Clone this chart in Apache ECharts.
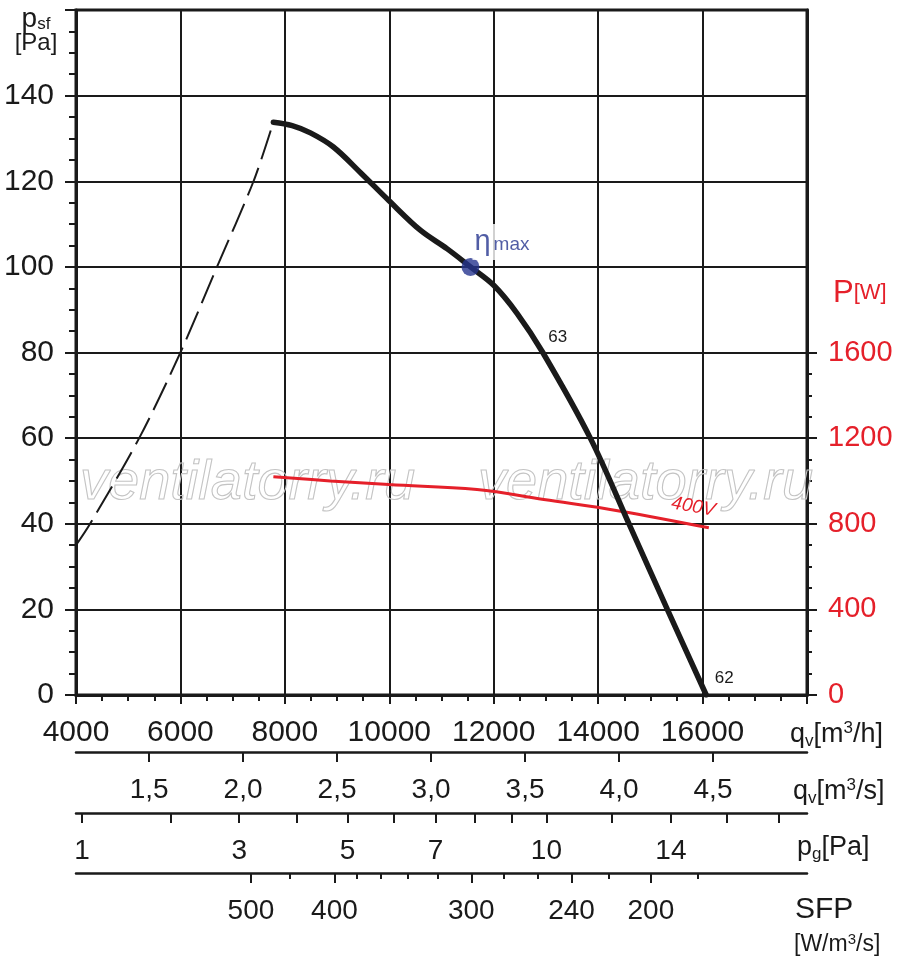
<!DOCTYPE html>
<html>
<head>
<meta charset="utf-8">
<title>Fan curve</title>
<script src="https://cdn.jsdelivr.net/npm/echarts@6/dist/echarts.min.js"></script>
<style>
html, body { margin: 0; padding: 0; background: #fff; }
#chart { width: 900px; height: 967px; }
</style>
</head>
<body>
<div id="chart"></div>
<script>
var FONT = '"Liberation Sans", Arial, Helvetica, sans-serif';
var INK = '#1a1a1a';
var RED = '#e5202a';
var BLUE = '#26358f';

// fan curve (stable part) : q [m3/h] -> psf [Pa]
var curveFlow  = [7780, 8140, 8490, 8930, 9450, 9990, 10600, 11110, 11555, 12000, 12450, 12940, 13850, 14590, 15325, 16070];
var curvePress = [133.8, 133.0, 131.3, 128.0, 122.0, 115.5, 108.5, 104.2, 100.0, 95.7, 89.1, 80.0, 60.0, 40.0, 20.0, 0];

// stall region (dashed)
var stallFlow  = [4000, 4270, 5210, 6000, 6700, 7400, 7780];
var stallPress = [35.0, 40.0, 60.0, 80.0, 100.0, 120.0, 133.8];

// power input, 400V : q [m3/h] -> P [W]
var powerFlow = [7780, 8870, 9990, 11680, 12960, 14400, 16120];
var powerW    = [1020, 1000, 983, 960, 913, 860, 781];

// best efficiency point
var etaMax = [11555, 100];

// right axis labels
var powerTicks = [0, 400, 800, 1200, 1600];

// secondary scales
var flowSecTicks = [1.5, 2.0, 2.5, 3.0, 3.5, 4.0, 4.5];          // m3/s
var pgTicks  = [1, 2, 3, 4, 5, 6, 7, 8, 9, 10, 12, 14, 16, 18];   // Pa
var pgLabels = [1, 3, 5, 7, 10, 14];
var PG_FLOW_1PA = 4114;                                          // m3/h at 1 Pa dynamic pressure
var sfpMajor     = [500, 400, 300, 240, 200];                    // W/(m3/s)
var sfpMajorFlow = [7350, 8950, 11570, 13490, 15010];            // where they sit, m3/h
var sfpMinorFlow = [8100, 9370, 9830, 10350, 10920, 12190, 12840, 14200, 15910];

function pairs(xs, ys) {
  return xs.map(function (x, i) { return [x, ys[i]]; });
}
function pgToFlow(pg) { return PG_FLOW_1PA * Math.sqrt(pg); }

var powerMinor = [];
for (var w = 0; w <= 1600; w += 100) { if (w % 400) powerMinor.push(w); }

var chart = echarts.init(document.getElementById('chart'));

function secAxis(offset, extra) {
  var a = {
    type: 'value', min: 4000, max: 18000, position: 'bottom', offset: offset,
    axisLine: { show: true, onZero: false, lineStyle: { color: INK, width: 2.5 } },
    axisTick: { show: true, length: 10, lineStyle: { color: INK, width: 2 } },
    axisLabel: { fontSize: 28, color: INK, margin: 24, fontFamily: FONT },
    splitLine: { show: false }
  };
  for (var k in extra) {
    if (typeof extra[k] === 'object' && a[k]) {
      for (var j in extra[k]) a[k][j] = extra[k][j];
    } else a[k] = extra[k];
  }
  return a;
}

function richName(x, y, text, rich) {
  return {
    type: 'text', x: x, y: y, z: 10,
    style: { text: text, align: 'left', verticalAlign: 'middle', fill: INK, fontFamily: FONT, rich: rich }
  };
}

var unitRich = {
  b: { fontSize: 27, fontFamily: FONT, fill: INK, lineHeight: 30 },
  sub: { fontSize: 17, fontFamily: FONT, fill: INK, lineHeight: 15, verticalAlign: 'bottom' },
  sup: { fontSize: 17, fontFamily: FONT, fill: INK, lineHeight: 15, verticalAlign: 'top' }
};

var option = {
  animation: false,
  backgroundColor: '#fff',
  textStyle: { fontFamily: FONT },
  grid: { left: 76, right: 93, top: 10, bottom: 272, show: true, borderColor: INK, borderWidth: 3, containLabel: false },
  xAxis: [
    {
      type: 'value', min: 4000, max: 18000, interval: 2000, position: 'bottom',
      axisLine: { onZero: false, lineStyle: { color: INK, width: 3 } },
      axisTick: { length: 9, lineStyle: { color: INK, width: 2 } },
      minorTick: { show: true, splitNumber: 4, length: 6, lineStyle: { color: INK, width: 2 } },
      axisLabel: { fontSize: 30, color: INK, margin: 23, fontFamily: FONT,
        formatter: function (v) { return v === 18000 ? '' : String(v); } },
      splitLine: { show: true, lineStyle: { color: INK, width: 2 } }
    },
    // q [m3/s]
    {
      type: 'value', min: 4000 / 3600, max: 18000 / 3600, position: 'bottom', offset: 57,
      axisLine: { show: true, onZero: false, lineStyle: { color: INK, width: 2.5 } },
      axisTick: { show: true, length: 10, customValues: flowSecTicks, lineStyle: { color: INK, width: 2 } },
      axisLabel: { fontSize: 28, color: INK, margin: 24, fontFamily: FONT, customValues: flowSecTicks,
        formatter: function (v) { return v.toFixed(1).replace('.', ','); } },
      splitLine: { show: false }
    },
    // pg [Pa]
    secAxis(118, {
      axisTick: { customValues: pgTicks.map(pgToFlow) },
      axisLabel: { margin: 24, customValues: pgLabels.map(pgToFlow),
        formatter: function (v) { return String(Math.round(Math.pow(v / PG_FLOW_1PA, 2))); } }
    }),
    // SFP major
    secAxis(178, {
      axisTick: { customValues: sfpMajorFlow },
      axisLabel: { margin: 24, customValues: sfpMajorFlow,
        formatter: function (v) { return String(sfpMajor[sfpMajorFlow.indexOf(v)]); } }
    }),
    // SFP minor ticks
    secAxis(178, {
      axisLine: { show: false },
      axisTick: { length: 6, customValues: sfpMinorFlow },
      axisLabel: { show: false }
    })
  ],
  yAxis: [
    {
      type: 'value', min: 0, max: 160, interval: 20, position: 'left',
      axisLine: { show: true, onZero: false, lineStyle: { color: INK, width: 3 } },
      axisTick: { show: true, length: 11, lineStyle: { color: INK, width: 2 } },
      minorTick: { show: true, splitNumber: 4, length: 7, lineStyle: { color: INK, width: 2 } },
      axisLabel: { fontSize: 30, color: INK, margin: 22, fontFamily: FONT,
        formatter: function (v) { return v === 160 ? '' : String(v); } },
      splitLine: { show: true, lineStyle: { color: INK, width: 2 } }
    },
    {
      type: 'value', min: 0, max: 3200, position: 'right',
      axisLine: { show: true, onZero: false, lineStyle: { color: INK, width: 3 } },
      axisTick: { show: true, length: 10, customValues: powerTicks, lineStyle: { color: INK, width: 2 } },
      axisLabel: { fontSize: 29, color: RED, margin: 21, fontFamily: FONT, customValues: powerTicks,
        formatter: function (v) { return String(v); } },
      splitLine: { show: false }
    },
    {
      type: 'value', min: 0, max: 3200, position: 'right',
      axisLine: { show: false },
      axisTick: { show: true, length: 5, customValues: powerMinor, lineStyle: { color: INK, width: 2 } },
      axisLabel: { show: false },
      splitLine: { show: false }
    }
  ],
  graphic: [
    { type: 'text', x: 80, y: 483, z: 1, silent: true,
      style: { text: 'ventilatorry.ru', font: 'italic 56px ' + FONT, fill: 'rgba(255,255,255,0)', stroke: '#c4c4c4', lineWidth: 1.1, verticalAlign: 'middle' } },
    { type: 'text', x: 478, y: 483, z: 1, silent: true,
      style: { text: 'ventilatorry.ru', font: 'italic 56px ' + FONT, fill: 'rgba(255,255,255,0)', stroke: '#c4c4c4', lineWidth: 1.1, verticalAlign: 'middle' } },
    {
      type: 'text', x: 36, y: 19, z: 10,
      style: { text: '{p|p}{s|sf}', align: 'center', verticalAlign: 'middle', fill: INK,
        rich: { p: { fontSize: 28, fontFamily: FONT, fill: INK, lineHeight: 28 },
                s: { fontSize: 17, fontFamily: FONT, fill: INK, lineHeight: 17, verticalAlign: 'bottom' } } }
    },
    { type: 'text', x: 36, y: 43, z: 10,
      style: { text: '[Pa]', font: '24px ' + FONT, fill: INK, align: 'center', verticalAlign: 'middle' } },
    {
      type: 'text', x: 833, y: 293, z: 10,
      style: { text: '{a|P}{b|[W]}', align: 'left', verticalAlign: 'middle',
        rich: { a: { fontSize: 31, fontFamily: FONT, fill: RED }, b: { fontSize: 22, fontFamily: FONT, fill: RED } } }
    },
    richName(790, 735, '{b|q}{sub|v}{b|[m}{sup|3}{b|/h]}', unitRich),
    richName(793, 792, '{b|q}{sub|v}{b|[m}{sup|3}{b|/s]}', unitRich),
    richName(797, 848, '{b|p}{sub|g}{b|[Pa]}', unitRich),
    { type: 'text', x: 795, y: 910, z: 10,
      style: { text: 'SFP', font: '30px ' + FONT, fill: INK, align: 'left', verticalAlign: 'middle' } },
    richName(794, 945, '{b|[W/m}{sup|3}{b|/s]}', {
      b: { fontSize: 23, fontFamily: FONT, fill: INK, lineHeight: 26 },
      sup: { fontSize: 15, fontFamily: FONT, fill: INK, lineHeight: 13, verticalAlign: 'top' }
    })
  ],
  series: [
    {
      name: '400V', type: 'line', xAxisIndex: 0, yAxisIndex: 1, z: 3,
      data: pairs(powerFlow, powerW), smooth: 0.4, showSymbol: false, symbol: 'none',
      lineStyle: { color: RED, width: 3 },
      markPoint: {
        symbol: 'circle', symbolSize: 1, itemStyle: { color: 'rgba(0,0,0,0)' },
        data: [{ coord: [powerFlow[powerFlow.length - 1], powerW[powerW.length - 1]],
          label: { show: true, formatter: '400V', offset: [-19, -18], rotate: -10, color: RED, fontSize: 19, fontStyle: 'italic', fontFamily: FONT } }]
      }
    },
    {
      name: 'stall', type: 'line', xAxisIndex: 0, yAxisIndex: 0, z: 4,
      data: pairs(stallFlow, stallPress), smooth: 0.3, showSymbol: false, symbol: 'none',
      lineStyle: { color: INK, width: 2, type: [30, 9] }
    },
    {
      name: 'psf', type: 'line', xAxisIndex: 0, yAxisIndex: 0, z: 5,
      data: pairs(curveFlow, curvePress), smooth: 0.35, showSymbol: false, symbol: 'none',
      lineStyle: { color: INK, width: 5.5, cap: 'round' },
      markPoint: {
        symbol: 'circle', symbolSize: 1, itemStyle: { color: 'rgba(0,0,0,0)' },
        label: { show: true, color: INK, fontSize: 17, fontFamily: FONT },
        data: [
          { coord: [curveFlow[11], curvePress[11]], label: { formatter: '63', offset: [15, -15] } },
          { coord: [curveFlow[curveFlow.length - 1], curvePress[curvePress.length - 1]], label: { formatter: '62', offset: [18, -17] } }
        ]
      }
    },
    {
      name: 'eta', type: 'scatter', xAxisIndex: 0, yAxisIndex: 0, z: 6,
      data: [etaMax], symbolSize: 18, itemStyle: { color: BLUE },
      label: {
        show: true, position: [11, -34], formatter: '{e|η}{m|max}',
        backgroundColor: '#fff', padding: [3, 2, 3, 2],
        rich: {
          e: { fontSize: 29, color: BLUE, fontFamily: FONT, lineHeight: 30, verticalAlign: 'middle' },
          m: { fontSize: 19, color: BLUE, fontFamily: FONT, lineHeight: 30, verticalAlign: 'middle', padding: [6, 0, 0, 3] }
        }
      }
    }
  ]
};

chart.setOption(option);
</script>
</body>
</html>
